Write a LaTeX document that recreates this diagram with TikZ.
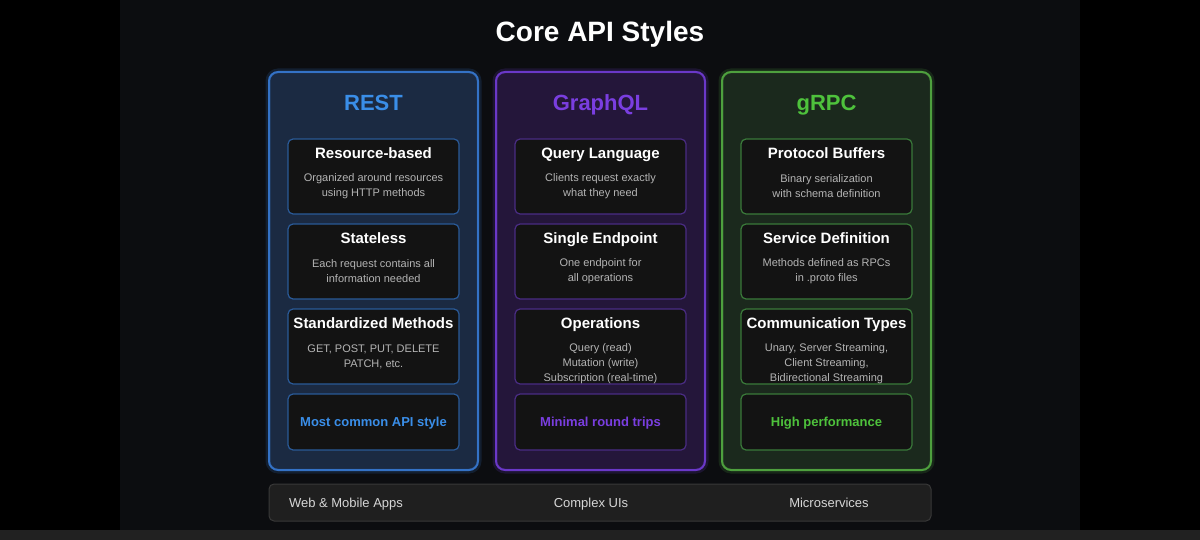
\documentclass[tikz,border=0pt]{standalone}
\usepackage{fontspec}
\setmainfont{Liberation Sans}
\definecolor{bg}{HTML}{0C0D10}
\definecolor{strip}{HTML}{212121}
\definecolor{restfill}{HTML}{1B2A42}
\definecolor{restline}{HTML}{3472C6}
\definecolor{restin}{HTML}{2A5A98}
\definecolor{resttext}{HTML}{3A8EE8}
\definecolor{gqlfill}{HTML}{24163A}
\definecolor{gqlline}{HTML}{6A38C8}
\definecolor{gqlin}{HTML}{4A2C84}
\definecolor{gqltext}{HTML}{7A3EE0}
\definecolor{grpcfill}{HTML}{1B291D}
\definecolor{grpcline}{HTML}{4EA03E}
\definecolor{grpcin}{HTML}{3A7A3A}
\definecolor{grpctext}{HTML}{4EC23C}
\definecolor{boxfill}{HTML}{131313}
\definecolor{desc}{HTML}{B4B4B4}
\definecolor{barfill}{HTML}{1F1F1F}
\definecolor{barline}{HTML}{383838}
\definecolor{bartext}{HTML}{D6D6D6}
\tikzset{
  panel/.style={draw, line width=2pt, rounded corners=9pt, minimum width=209pt, minimum height=398pt, inner sep=0pt},
  ibox/.style={draw, line width=1.2pt, rounded corners=5pt, fill=boxfill, minimum width=171pt, inner sep=0pt},
  coltitle/.style={font=\bfseries\fontsize{22}{26}\selectfont, inner sep=0pt, anchor=base},
  btitle/.style={font=\bfseries\fontsize{15}{18}\selectfont, text=white, inner sep=0pt, anchor=base},
  bdesc/.style={font=\fontsize{11}{15}\selectfont, text=desc, align=center, inner sep=0pt},
  hltext/.style={font=\bfseries\fontsize{13}{15}\selectfont, text height=9.6pt, text depth=0.6pt},
  bartxt/.style={font=\fontsize{13}{15}\selectfont, text=bartext, inner sep=0pt, anchor=base}
}
% #1 name, #2 x centre, #3 top y, #4 border colour, #5 title, #6 description, #7 description centre offset
\newcommand{\featbox}[7]{%
  \node[ibox, draw=#4, minimum height=75pt] (#1) at (#2,#3+37.5) {};
  \node[btitle] (#1-t) at (#2,#3+19.4) {#5};
  \node[bdesc] (#1-d) at (#2,#3+#7) {#6};
}
\begin{document}
\begin{tikzpicture}[x=1pt,y=-1pt]
\useasboundingbox (0,0) rectangle (1200,540);
\fill[black] (0,0) rectangle (1200,540);
\fill[bg] (120,0) rectangle (1080,530);
\fill[strip] (0,530) rectangle (1200,540);

\node[font=\bfseries\fontsize{28}{32}\selectfont, text=white, inner sep=0pt, anchor=base] (title) at (600,42) {Core API Styles};

% panels
\node[panel, draw=restline, fill=restfill] (rest) at (373.5,271) {};
\node[panel, draw=gqlline, fill=gqlfill] (gql) at (600.5,271) {};
\node[panel, draw=grpcline, fill=grpcfill] (grpc) at (826.5,271) {};
\draw[restline, opacity=0.18, line width=5pt, rounded corners=10pt] (rest.south west) rectangle (rest.north east);
\draw[gqlline, opacity=0.18, line width=5pt, rounded corners=10pt] (gql.south west) rectangle (gql.north east);
\draw[grpcline, opacity=0.18, line width=5pt, rounded corners=10pt] (grpc.south west) rectangle (grpc.north east);

\node[coltitle, text=resttext] (rest-title) at (373.5,111) {REST};
\node[coltitle, text=gqltext] (gql-title) at (600.5,111) {GraphQL};
\node[coltitle, text=grpctext] (grpc-title) at (826.5,111) {gRPC};

% REST
\featbox{r1}{373.5}{139}{restin}{Resource-based}{Organized around resources\\using HTTP methods}{47.5}
\featbox{r2}{373.5}{224}{restin}{Stateless}{Each request contains all\\information needed}{47.5}
\featbox{r3}{373.5}{309}{restin}{Standardized Methods}{GET, POST, PUT, DELETE\\PATCH, etc.}{47.5}
\node[ibox, draw=restin, minimum height=56pt, hltext, text=resttext] (r4) at (373.5,422) {Most common API style};

% GraphQL
\featbox{g1}{600.5}{139}{gqlin}{Query Language}{Clients request exactly\\what they need}{47.5}
\featbox{g2}{600.5}{224}{gqlin}{Single Endpoint}{One endpoint for\\all operations}{47.5}
\featbox{g3}{600.5}{309}{gqlin}{Operations}{Query (read)\\Mutation (write)\\Subscription (real-time)}{55}
\node[ibox, draw=gqlin, minimum height=56pt, hltext, text=gqltext] (g4) at (600.5,422) {Minimal round trips};

% gRPC
\featbox{c1}{826.5}{139}{grpcin}{Protocol Buffers}{Binary serialization\\with schema definition}{47.5}
\featbox{c2}{826.5}{224}{grpcin}{Service Definition}{Methods defined as RPCs\\in .proto files}{47.5}
\featbox{c3}{826.5}{309}{grpcin}{Communication Types}{Unary, Server Streaming,\\Client Streaming,\\Bidirectional Streaming}{55}
\node[ibox, draw=grpcin, minimum height=56pt, hltext, text=grpctext] (c4) at (826.5,422) {High performance};

% bottom bar
\node[draw=barline, fill=barfill, line width=1pt, rounded corners=5pt, minimum width=662pt, minimum height=37pt, inner sep=0pt] (bar) at (600,502.5) {};
\node[bartxt] (use-rest) at (346,507) {Web \& Mobile Apps};
\node[bartxt] (use-gql) at (591,507) {Complex UIs};
\node[bartxt] (use-grpc) at (829,507) {Microservices};
\end{tikzpicture}
\end{document}
